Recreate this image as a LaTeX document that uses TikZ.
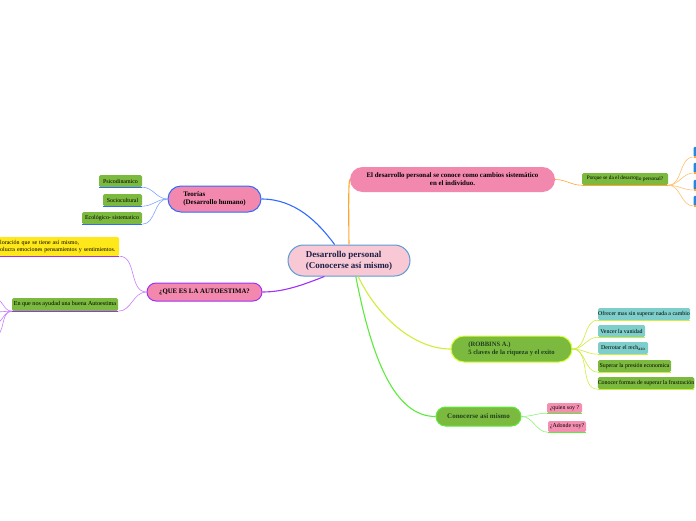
\documentclass[tikz,border=0pt]{standalone}
\usepackage{fontspec}
\setmainfont{Liberation Serif}
\usetikzlibrary{shapes.misc}
\definecolor{cpink}{HTML}{F8C8D4}
\definecolor{cblue}{HTML}{5B9BD5}
\definecolor{cnavy}{HTML}{1B1F4A}
\definecolor{hpink}{HTML}{F288AE}
\definecolor{corange}{HTML}{FFA630}
\definecolor{bblue}{HTML}{2F6BFF}
\definecolor{lblue}{HTML}{7FA6FF}
\definecolor{cpurple}{HTML}{A030F5}
\definecolor{lpurple}{HTML}{C77DFF}
\definecolor{ygreen}{HTML}{CDEE3A}
\definecolor{ygborder}{HTML}{D4FF33}
\definecolor{bgreen}{HTML}{5CEB3C}
\definecolor{lgreen}{HTML}{8FF07A}
\definecolor{leafg}{HTML}{7CBA3F}
\definecolor{teal}{HTML}{7ECFCB}
\definecolor{cyellow}{HTML}{FFE81A}
\definecolor{qpink}{HTML}{F48FB1}
\definecolor{dgreen}{HTML}{1E3F1E}
\definecolor{boxblue}{HTML}{1E88E5}
\begin{document}
\begin{tikzpicture}[x=1pt,y=-1pt,
  pill/.style={rounded rectangle, draw, line width=1pt, align=left, inner sep=0pt,
    font=\bfseries\fontsize{7}{8.5}\selectfont},
  leaf/.style={rectangle, rounded corners=1.5pt, inner sep=0pt, minimum height=12pt,
    font=\fontsize{5.9}{6.5}\selectfont},
  br/.style={line width=1.1pt},
  sb/.style={line width=0.6pt},
  ul/.style={line width=1.3pt}]
\useasboundingbox (0,0) rectangle (696,520);

% central
\node[pill, fill=cpink, draw=cblue, minimum width=122pt, minimum height=31pt,
  font=\bfseries\fontsize{9}{11}\selectfont, text=cnavy] (c) at (349,260.5)
  {Desarrollo personal\\(Conocerse así mismo)};

% top pink node
\node[rounded rectangle, fill=hpink, minimum width=205pt, minimum height=25pt, inner sep=0pt,
  align=center, font=\bfseries\fontsize{6.9}{8}\selectfont] (p) at (452.5,179.5)
  {El desarrollo personal se conoce como cambios sistemático\\en el individuo.};
\draw[br, corange] (c.north) .. controls (348.5,205) and (348.5,182) .. (p.west);

\node[leaf, fill=leafg, minimum width=86pt, font=\fontsize{5.3}{6}\selectfont] (pq) at (625,179)
  {Porque se da el desarro\raisebox{-0.6pt}{llo personal?}};
\draw[ul, corange] (pq.south west) -- (pq.south east);
\draw[sb, corange] (p.east) to[out=0,in=180] (pq.south west);

\foreach \i/\yy in {1/157,2/173,3/190,4/206}{
  \node[rectangle, rounded corners=1pt, fill=boxblue, minimum width=14pt, minimum height=10pt,
    inner sep=0pt, anchor=south west] (b\i) at (693.5,\yy) {};
  \draw[ul, corange] (b\i.south west) -- (b\i.south east);
  \draw[sb, corange!70] (pq.south east) to[out=0,in=180] (b\i.south west);
}

% Teorias
\node[pill, fill=hpink, draw=bblue, minimum width=93pt, minimum height=26pt] (t) at (214.5,199)
  {Teorías\\(Desarrollo humano)};
\draw[br, bblue] (c.132) .. controls (318,222) and (295,199) .. (t.east);
\node[leaf, fill=leafg, minimum width=43pt] (t1) at (120.5,181) {Psicodinamico};
\node[leaf, fill=leafg, minimum width=39pt] (t2) at (122.5,200) {Sociocultural};
\node[leaf, fill=leafg, minimum width=60pt] (t3) at (112,218) {Ecológico- sistematico};
\foreach \n in {t1,t2,t3}{
  \draw[ul, bblue] (\n.south west) -- (\n.south east);
  \draw[sb, lblue] (t.west) to[out=180,in=0] (\n.south east);
}

% Autoestima
\node[pill, fill=hpink, draw=cpurple, align=center, minimum width=115pt, minimum height=18pt,
  font=\bfseries\fontsize{6.8}{7.5}\selectfont] (a) at (204.5,292) {¿QUE ES LA AUTOESTIMA?};
\draw[br, cpurple] (c.213) .. controls (305,284) and (285,292) .. (a.east);
\node[rectangle, rounded corners=1.5pt, fill=cyellow, text width=118pt, inner xsep=1pt, inner ysep=0pt,
  minimum height=19pt, align=left, anchor=west, font=\fontsize{5.95}{7.2}\selectfont] (y) at (-1,246.5)
  {\mbox{loración que se tiene así mismo,}\\\mbox{olucra emociones pensamientos y sentimientos.}};
\node[leaf, fill=leafg, minimum width=106pt, minimum height=13pt, font=\fontsize{6.1}{6.8}\selectfont] (e) at (65,304.5)
  {En que nos ayudad una buena Autoestima};
\foreach \n in {y,e}{
  \draw[ul, cpurple] (\n.south west) -- (\n.south east);
  \draw[sb, lpurple] (a.west) to[out=180,in=0] (\n.south east);
}
\coordinate (o1) at (-6,298);
\coordinate (o2) at (-6,312);
\coordinate (o3) at (-6,324);
\coordinate (o4) at (-6,336);
\foreach \n in {o1,o2,o3,o4}{
  \draw[sb, lpurple] (e.south west) to[out=180,in=0] (\n);
}

% Robbins
\node[pill, fill=leafg, draw=ygborder, text=dgreen, minimum width=121pt, minimum height=26pt,
  font=\bfseries\fontsize{6.6}{8}\selectfont] (r) at (511.5,349)
  {(ROBBINS A.)\\5 claves de la riqueza y el exito};
\draw[br, ygreen] (c.300) .. controls (378,318) and (415,349) .. (r.west);
\node[leaf, fill=teal, minimum width=92pt] (r1) at (644,314) {Ofrecer mas sin \raisebox{-0.8pt}{superar nada a cambio}};
\node[leaf, fill=teal, minimum width=47pt] (r2) at (621.5,331) {Vencer la vanidad};
\node[leaf, fill=teal, minimum width=50pt] (r3) at (623,348) {Derrotar el rech\raisebox{-1pt}{\fontsize{4.7}{5}\selectfont azo}};
\node[leaf, fill=leafg, minimum width=73pt] (r4) at (634.5,366) {Superar la presión economica};
\node[leaf, fill=leafg, minimum width=96pt] (r5) at (646,383) {Conocer forma\raisebox{-0.8pt}{s de superar la frustración}};
\foreach \n in {r1,r2,r3,r4,r5}{
  \draw[ul, ygreen] (\n.south west) -- (\n.south east);
  \draw[sb, ygreen] (r.east) to[out=0,in=180] (\n.south west);
}

% Conocerse
\node[pill, fill=leafg, draw=bgreen, text=dgreen, align=center, minimum width=85pt, minimum height=19pt] (k) at (478.5,416.5)
  {Conocerse asi mismo};
\draw[br, bgreen] (c.293) .. controls (372,360) and (395,416.5) .. (k.west);
\node[leaf, fill=qpink, minimum width=35pt, minimum height=10pt] (q1) at (564.5,408) {¿quien soy ?};
\node[leaf, fill=qpink, minimum width=38pt, minimum height=11pt] (q2) at (567,426.5) {¿Adonde voy?};
\foreach \n in {q1,q2}{
  \draw[ul, bgreen] (\n.south west) -- (\n.south east);
  \draw[sb, lgreen] (k.east) to[out=0,in=180] (\n.south west);
}
\end{tikzpicture}
\end{document}
